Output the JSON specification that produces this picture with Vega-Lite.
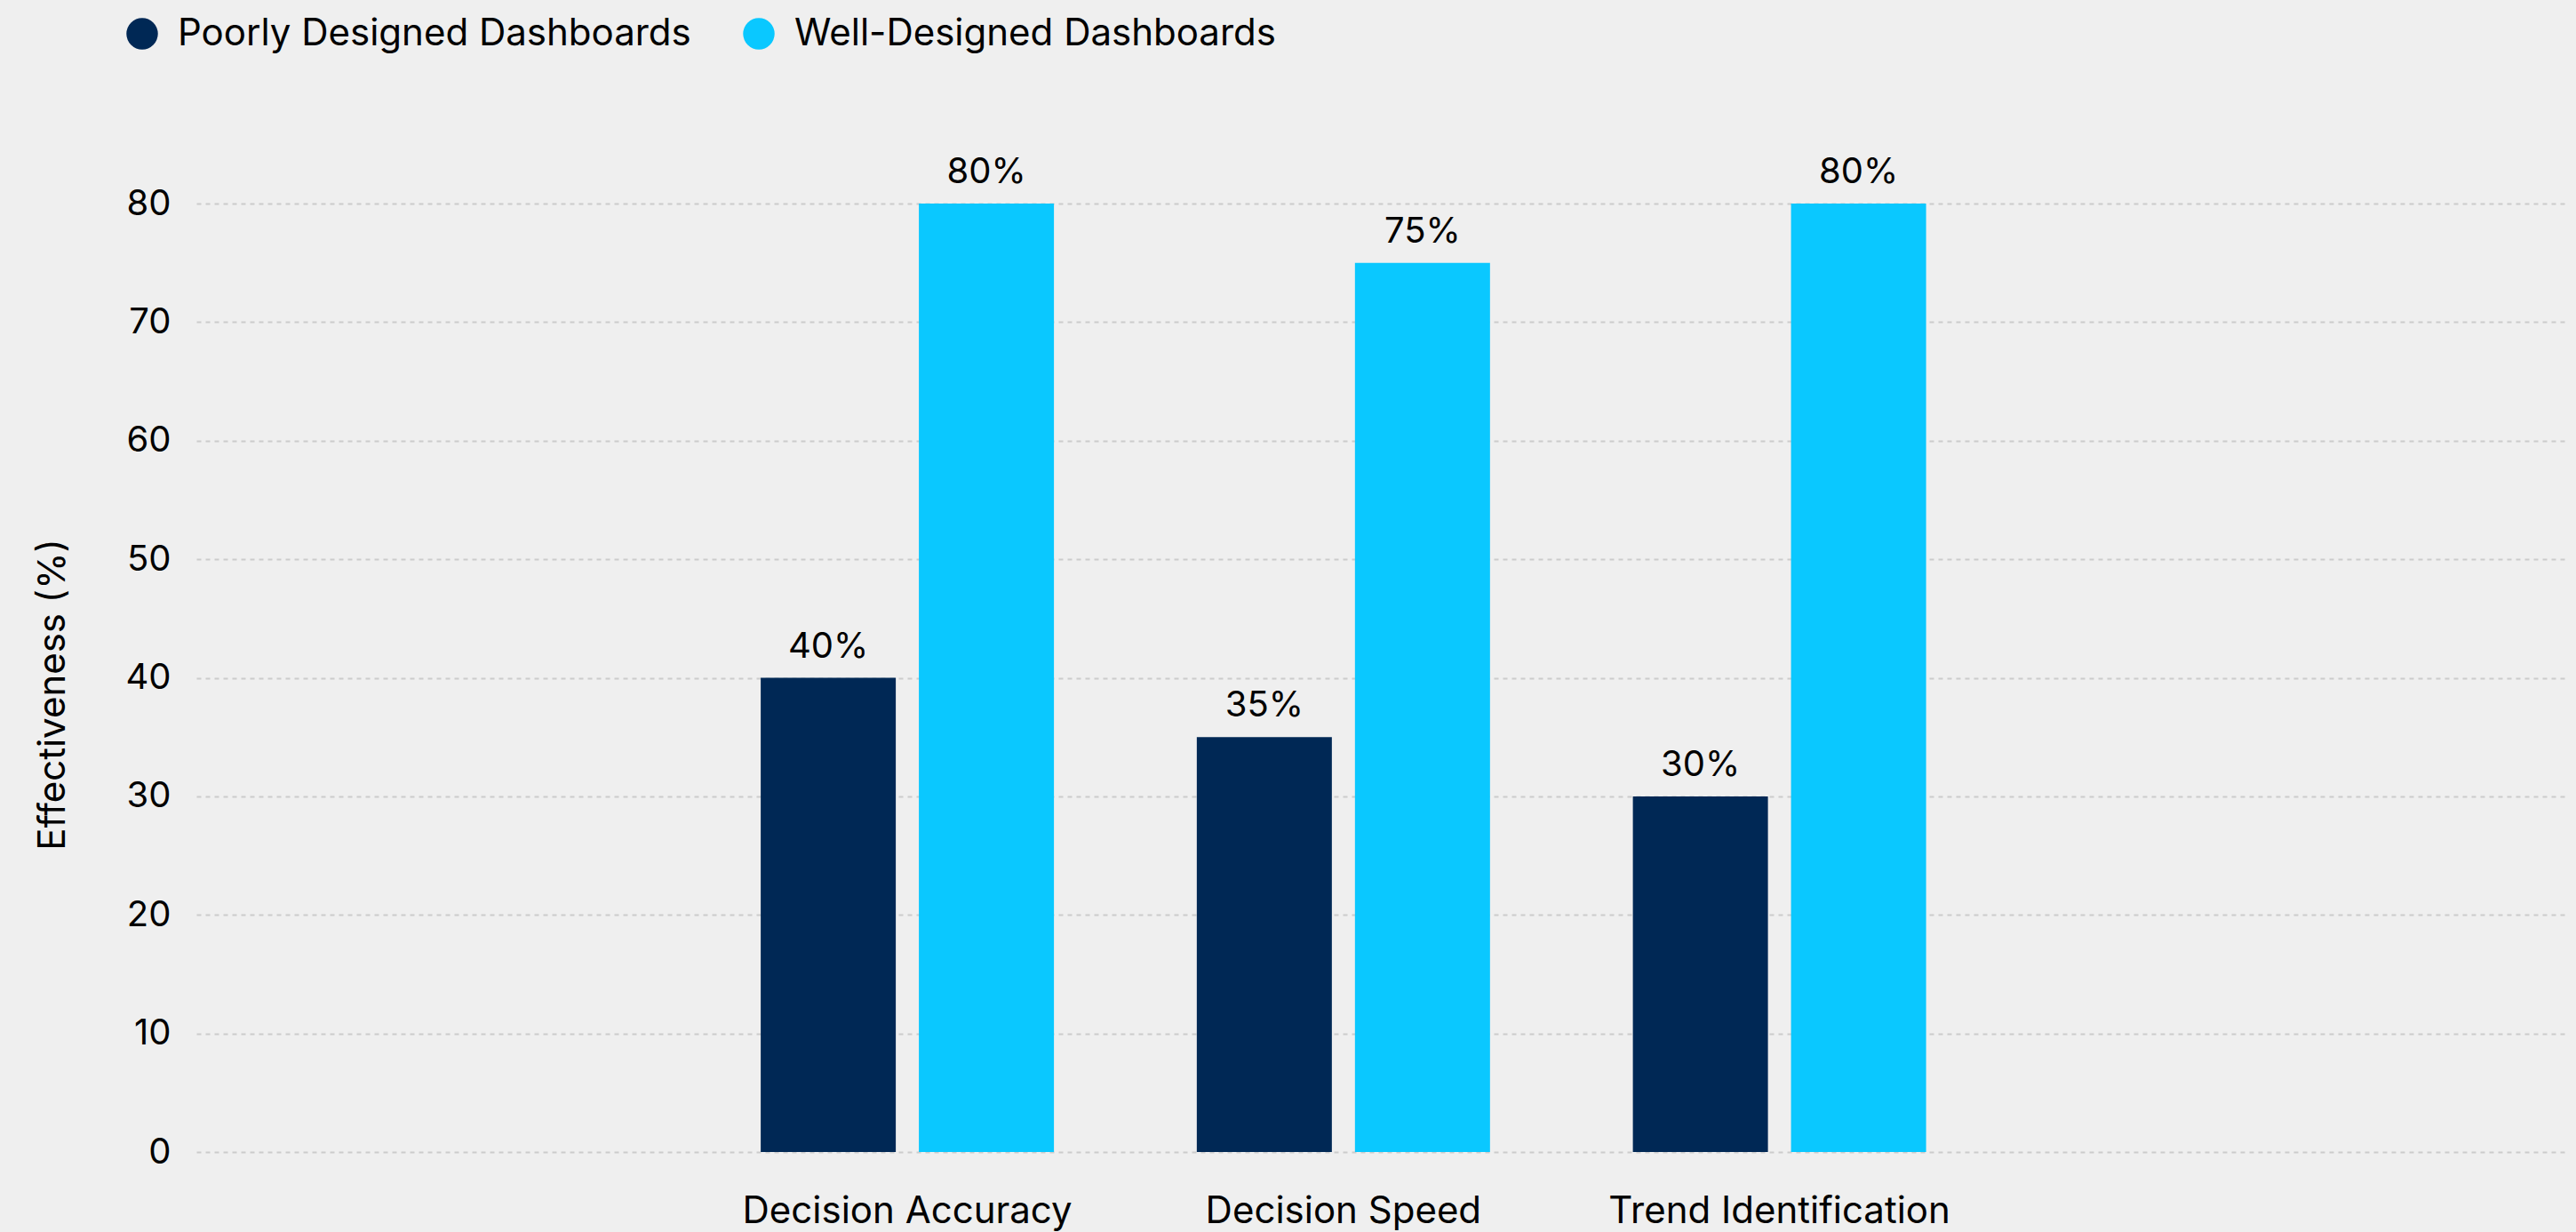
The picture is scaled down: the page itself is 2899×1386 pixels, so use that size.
{
  "$schema": "https://vega.github.io/schema/vega-lite/v6.json",
  "autosize": {"type": "none"},
  "padding": {"left": 221, "top": 229, "right": 12, "bottom": 90},
  "width": 2666,
  "height": 1067,
  "background": "#efefef",
  "data": {
    "values": [
      {"category": "Decision Accuracy", "series": "Poorly Designed Dashboards", "value": 40, "label": "40%"},
      {"category": "Decision Accuracy", "series": "Well-Designed Dashboards", "value": 80, "label": "80%"},
      {"category": "Decision Speed", "series": "Poorly Designed Dashboards", "value": 35, "label": "35%"},
      {"category": "Decision Speed", "series": "Well-Designed Dashboards", "value": 75, "label": "75%"},
      {"category": "Trend Identification", "series": "Poorly Designed Dashboards", "value": 30, "label": "30%"},
      {"category": "Trend Identification", "series": "Well-Designed Dashboards", "value": 80, "label": "80%"}
    ]
  },
  "encoding": {
    "x": {
      "field": "category",
      "type": "nominal",
      "scale": {"domain": ["", "Decision Accuracy", "Decision Speed", "Trend Identification", " "], "paddingInner": 0.3276, "paddingOuter": 0.38, "align": 0.387},
      "axis": {"title": null, "labelAngle": 0, "domain": false, "ticks": false, "grid": false, "labelPadding": 46, "labelFontSize": 42, "labelLimit": 0}
    },
    "xOffset": {
      "field": "series",
      "type": "nominal",
      "scale": {"paddingInner": 0.146, "paddingOuter": 0}
    },
    "y": {
      "field": "value",
      "type": "quantitative",
      "scale": {"domain": [0, 80], "nice": false, "zero": true},
      "axis": {
        "title": "Effectiveness (%)",
        "values": [0, 10, 20, 30, 40, 50, 60, 70, 80],
        "grid": true,
        "gridColor": "#cccccc",
        "gridDash": [5, 5],
        "gridWidth": 2,
        "domain": false,
        "ticks": false,
        "labelPadding": 29,
        "labelFontSize": 40,
        "titleFontSize": 42,
        "titleFontWeight": "normal",
        "titleAngle": 270,
        "titleAlign": "center",
        "titleBaseline": "middle",
        "titleX": -162,
        "titleY": 552
      }
    }
  },
  "layer": [
    {
      "mark": {"type": "bar"},
      "encoding": {
        "color": {
          "field": "series",
          "type": "nominal",
          "scale": {"domain": ["Poorly Designed Dashboards", "Well-Designed Dashboards"], "range": ["#002855", "#0ac8ff"]},
          "legend": {
            "title": null,
            "orient": "none",
            "legendX": -82,
            "legendY": -212,
            "direction": "horizontal",
            "symbolType": "circle",
            "symbolSize": 1257,
            "symbolStrokeWidth": 0,
            "labelFontSize": 42,
            "labelOffset": 19,
            "labelLimit": 0,
            "columnPadding": 55,
            "labelColor": "#000000"
          }
        }
      }
    },
    {
      "mark": {"type": "text", "baseline": "alphabetic", "dy": -23, "fontSize": 40, "color": "#000000"},
      "encoding": {
        "text": {"field": "label", "type": "nominal"}
      }
    }
  ],
  "config": {
    "font": "Inter",
    "view": {"stroke": null},
    "axis": {"labelColor": "#000000", "titleColor": "#000000", "labelFont": "Inter", "titleFont": "Inter"},
    "legend": {"labelFont": "Inter"}
  }
}
